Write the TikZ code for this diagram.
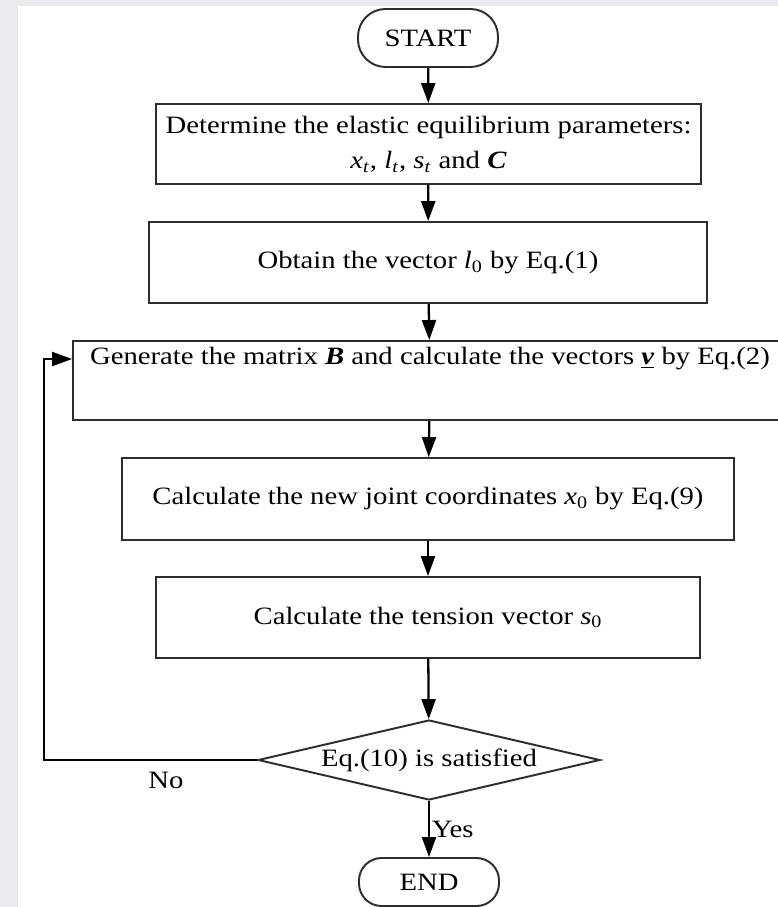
\documentclass[tikz,border=0pt]{standalone}
\usepackage{fontspec}
\setmainfont{Liberation Serif}[FakeStretch=1.15]
\usepackage{xcolor}
\usepackage{tikz}
\usetikzlibrary{shapes.geometric, arrows.meta, positioning, calc}
\definecolor{PageGrey}{RGB}{234, 235, 239}
\definecolor{LineGrey}{RGB}{45, 45, 45}
\newcommand{\vi}[1]{\textit{#1}}
\newcommand{\vb}[1]{\textbf{\textit{#1}}}

\begin{document}
\begin{tikzpicture}[
  x=0.02cm, y=-0.02cm,
  box/.style={draw=LineGrey, fill=white, line width=1.1pt,
    minimum height=1.6cm, align=center,
    font=\fontsize{14.2}{20}\selectfont},
  term/.style={draw=LineGrey, fill=white, line width=1.1pt, rounded corners=0.55cm,
    minimum width=2.8cm, minimum height=1.16cm,
    font=\fontsize{14.2}{17}\selectfont},
  cond/.style={draw=LineGrey, fill=white, line width=1.1pt, diamond, aspect=4.3,
    inner sep=0pt, minimum width=6.84cm, minimum height=1.6cm,
    font=\fontsize{14.2}{17}\selectfont},
  lbl/.style={font=\fontsize{14.2}{17}\selectfont},
  arr/.style={-{Triangle[length=0.4cm, width=0.28cm]}, line width=1.3pt}
]
\useasboundingbox (0,0) rectangle (778,907);
\fill[PageGrey] (0,0) rectangle (778,907);
\fill[white] (18,6) rectangle (778,907);

% Main chain
\node[term] (start) at (428, 38) {START};
\node[box, minimum width=10.9cm] (param) at (428.5, 144)
  {Determine the elastic equilibrium parameters:\\
   \vi{x}\textsubscript{\vi{t}}, \vi{l}\textsubscript{\vi{t}}, \vi{s}\textsubscript{\vi{t}} and \vb{C}};
\node[box, minimum width=11.16cm, minimum height=1.62cm] (lzero) at (428, 262.5)
  {Obtain the vector \vi{l}\textsubscript{0} by Eq.(1)};
\node[box, minimum width=14.28cm, minimum height=1.58cm] (gen) at (430, 380.5) {};
\node[lbl] (gentext) at (430, 359)
  {Generate the matrix \vb{B} and calculate the vectors \underline{\vb{v}} by Eq.(2)};
\node[box, minimum width=12.24cm, minimum height=1.64cm] (joint) at (428, 499)
  {Calculate the new joint coordinates \vi{x}\textsubscript{0} by Eq.(9)};
\node[box, minimum width=10.88cm, minimum height=1.62cm] (tens) at (428, 617.5)
  {Calculate the tension vector \vi{s}\textsubscript{0}};
\node[cond] (check) at (429, 760) {Eq.(10) is satisfied};
\node[term, minimum height=0.96cm, rounded corners=0.45cm] (stop) at (429, 882) {END};

\draw[arr] (start)--(param);
\draw[arr] (param)--(lzero);
\draw[arr] (lzero)--(gen);
\draw[arr] (gen)--(joint);
\draw[arr] (joint)--(tens);
\draw[arr] (tens)--(check);
\draw[arr] (check)--(stop) node[lbl, midway, right, inner sep=1pt] (yes) {Yes};

% Loop back
\coordinate (bend) at (44, 760);
\draw[arr, line width=1.1pt] (check.west) -- (bend) |- (gen.west |- gentext);
\node[lbl] (no) at (166, 780) {No};
\end{tikzpicture}
\end{document}
